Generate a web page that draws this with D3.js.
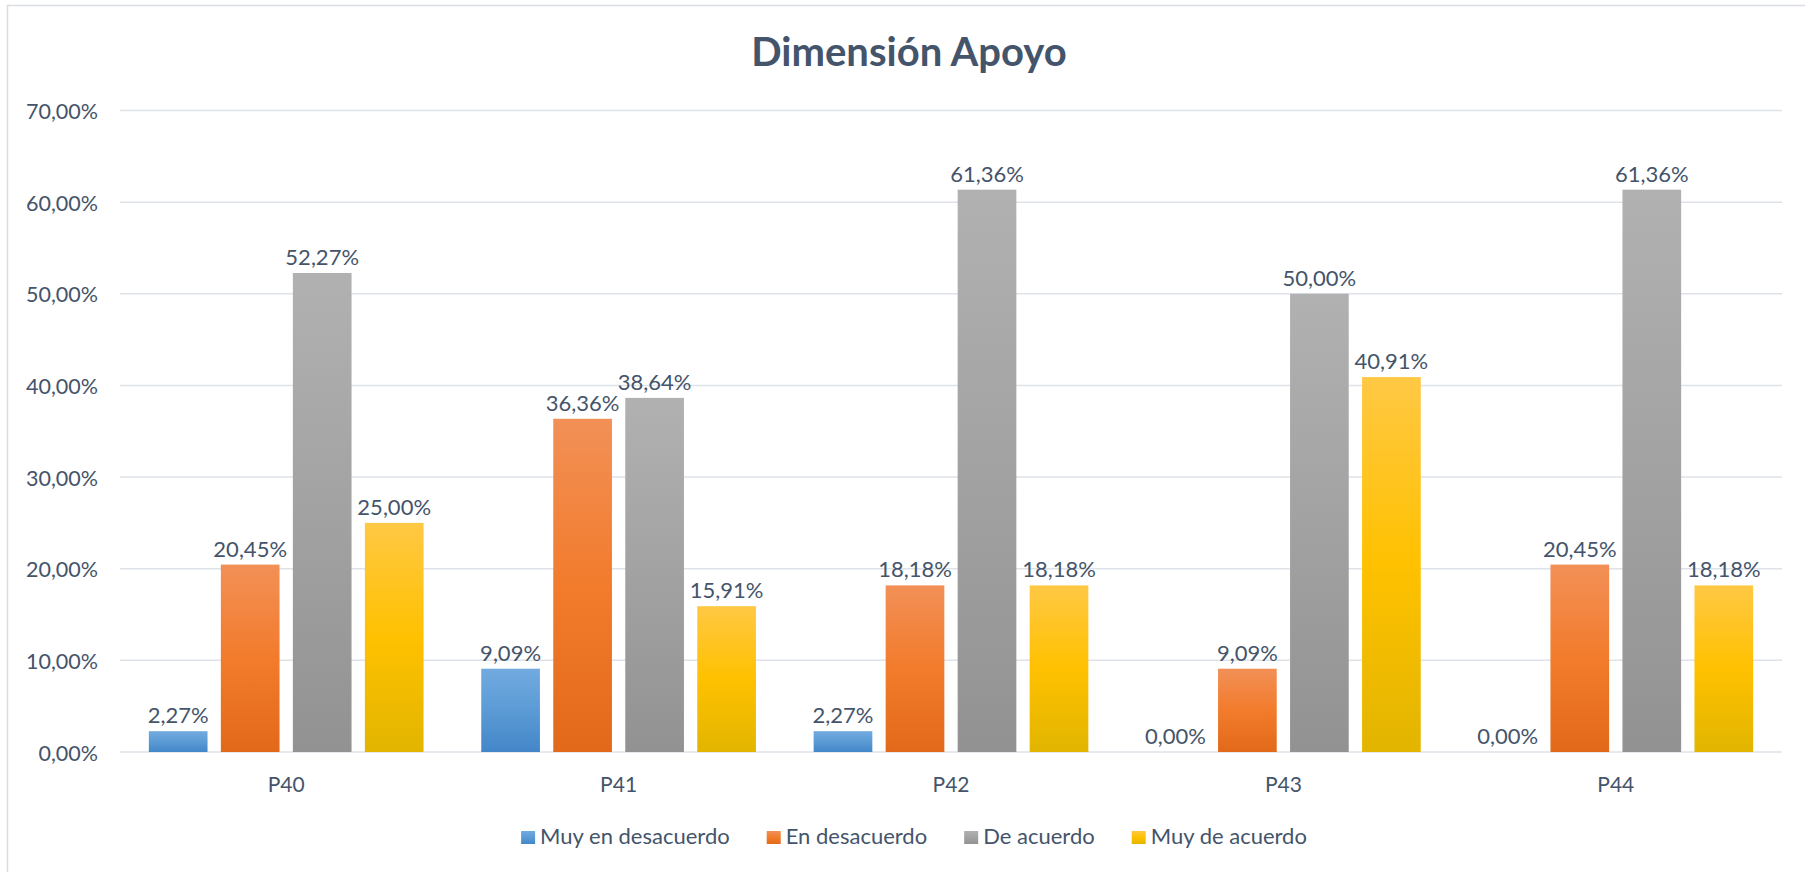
<!DOCTYPE html>
<html lang="es">
<head>
<meta charset="utf-8">
<title>Dimensión Apoyo</title>
<script src="https://cdn.jsdelivr.net/npm/d3@7"></script>
<style>
  html, body { margin: 0; padding: 0; background: #ffffff; }
  svg { display: block; }
  text { font-family: Lato, "Noto Sans", sans-serif; fill: #44546a; }
</style>
</head>
<body>
<svg id="chart" width="1805" height="872"></svg>
<script>
// Survey items (x categories)
const categories = ["P40", "P41", "P42", "P43", "P44"];

// Answer options (series)
const seriesNames = ["Muy en desacuerdo", "En desacuerdo", "De acuerdo", "Muy de acuerdo"];

// Share of answers per item, one array per answer option (fractions)
const muyEnDesacuerdo = [0.0227, 0.0909, 0.0227, 0.0000, 0.0000];
const enDesacuerdo    = [0.2045, 0.3636, 0.1818, 0.0909, 0.2045];
const deAcuerdo       = [0.5227, 0.3864, 0.6136, 0.5000, 0.6136];
const muyDeAcuerdo    = [0.2500, 0.1591, 0.1818, 0.4091, 0.1818];

// Y axis ticks
const yTicks = [0, 0.1, 0.2, 0.3, 0.4, 0.5, 0.6, 0.7];

const seriesValues = [muyEnDesacuerdo, enDesacuerdo, deAcuerdo, muyDeAcuerdo];

// Gradient stops (top, middle, bottom) for each series
const seriesGradients = [
  ["#72aae0", "#5b9bd5", "#4386c8"],
  ["#f29057", "#f27b2c", "#e3691a"],
  ["#b1b1b1", "#a2a2a2", "#929292"],
  ["#ffc844", "#ffc100", "#e2b500"]
];

const W = 1805, H = 872;
const plot = { left: 120, right: 1782, top: 110.5, bottom: 752 };

const svg = d3.select("#chart");
const fmt = v => d3.format(".2f")(v * 100).replace(".", ",") + "%";

// Chart area outline
svg.append("rect")
  .attr("x", 7.5).attr("y", 5.5)
  .attr("width", W + 10).attr("height", H + 10)
  .attr("fill", "#ffffff")
  .attr("stroke", "#d9dde3").attr("stroke-width", 1.5);

// Gradients
const defs = svg.append("defs");
seriesGradients.forEach((stops, i) => {
  const g = defs.append("linearGradient")
    .attr("id", "grad" + i)
    .attr("x1", 0).attr("y1", 0).attr("x2", 0).attr("y2", 1);
  g.append("stop").attr("offset", "0%").attr("stop-color", stops[0]);
  g.append("stop").attr("offset", "50%").attr("stop-color", stops[1]);
  g.append("stop").attr("offset", "100%").attr("stop-color", stops[2]);
});

// Scales
const x0 = d3.scaleBand().domain(categories).range([plot.left, plot.right]).padding(0);
const groupPad = 28.85;
const x1 = d3.scaleBand()
  .domain(d3.range(seriesNames.length))
  .range([groupPad, x0.bandwidth() - groupPad])
  .paddingInner(0.185).paddingOuter(0);
const y = d3.scaleLinear().domain([0, 0.7]).range([plot.bottom, plot.top]);

// Title
svg.append("text")
  .attr("x", 909).attr("y", 66)
  .attr("text-anchor", "middle")
  .style("font-size", "40px").style("font-weight", "700")
  .text("Dimensión Apoyo");

// Gridlines
svg.append("g")
  .selectAll("line")
  .data(yTicks)
  .join("line")
  .attr("x1", plot.left).attr("x2", plot.right)
  .attr("y1", d => y(d)).attr("y2", d => y(d))
  .attr("stroke", "#dee2e9").attr("stroke-width", 1.5);

// Y axis labels
const yAxis = d3.axisLeft(y).tickValues(yTicks).tickFormat(fmt).tickSize(0).tickPadding(0);
const yg = svg.append("g").attr("transform", `translate(${plot.left - 22},0)`).call(yAxis);
yg.select(".domain").remove();
yg.selectAll("text")
  .attr("dy", "0.38em")
  .style("font-family", "Lato, 'Noto Sans', sans-serif")
  .style("font-size", "21.5px")
  .attr("fill", "#44546a");

// X axis labels
const xAxis = d3.axisBottom(x0).tickSize(0).tickPadding(0);
const xg = svg.append("g").attr("transform", `translate(0,${plot.bottom + 25})`).call(xAxis);
xg.select(".domain").remove();
xg.selectAll("text")
  .attr("dy", "0.71em")
  .style("font-family", "Lato, 'Noto Sans', sans-serif")
  .style("font-size", "21px")
  .attr("fill", "#44546a");

// Bars
const rows = categories.map((c, ci) => ({
  cat: c,
  vals: seriesValues.map((arr, si) => ({ si, v: arr[ci] }))
}));

const groups = svg.append("g")
  .selectAll("g")
  .data(rows)
  .join("g")
  .attr("transform", d => `translate(${x0(d.cat)},0)`);

groups.selectAll("rect")
  .data(d => d.vals.filter(e => e.v > 0))
  .join("rect")
  .attr("x", d => x1(d.si))
  .attr("width", x1.bandwidth())
  .attr("y", d => y(d.v))
  .attr("height", d => y(0) - y(d.v))
  .attr("fill", d => `url(#grad${d.si})`);

// Value labels
groups.selectAll("text.val")
  .data(d => d.vals)
  .join("text")
  .attr("class", "val")
  .attr("x", d => x1(d.si) + x1.bandwidth() / 2)
  .attr("y", d => y(d.v) - 8)
  .attr("text-anchor", "middle")
  .style("font-size", "22px")
  .text(d => fmt(d.v));

// Legend
const legend = svg.append("g");
const items = legend.selectAll("g")
  .data(seriesNames)
  .join("g");
items.append("rect")
  .attr("width", 14).attr("height", 13)
  .attr("y", 831)
  .attr("fill", (d, i) => `url(#grad${i})`);
items.append("text")
  .attr("x", 19).attr("y", 844)
  .style("font-size", "22px")
  .text(d => d);

let cursor = 0;
const widths = [];
items.each(function () {
  const w = 19 + this.querySelector("text").getComputedTextLength();
  widths.push(w);
});
const gap = 37;
const total = d3.sum(widths) + gap * (widths.length - 1);
cursor = 914 - total / 2;
items.attr("transform", (d, i) => {
  const tx = cursor;
  cursor += widths[i] + gap;
  return `translate(${tx},0)`;
});
</script>
</body>
</html>
